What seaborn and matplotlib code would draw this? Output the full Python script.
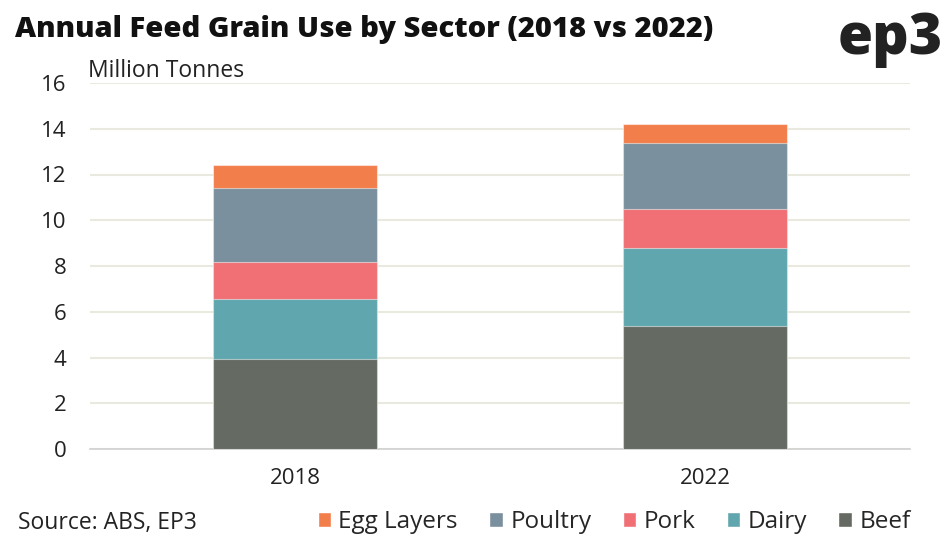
import pandas as pd
import matplotlib.pyplot as plt
import seaborn as sns
from matplotlib.patches import Patch

years = ["2018", "2022"]
sectors = ["Beef", "Dairy", "Pork", "Poultry", "Egg Layers"]
beef = [3.93, 5.38]
dairy = [2.63, 3.41]
pork = [1.61, 1.70]
poultry = [3.24, 2.89]
egg_layers = [1.01, 0.83]

colors = {
    "Beef": "#656A62",
    "Dairy": "#60A6AE",
    "Pork": "#F07075",
    "Poultry": "#7A909E",
    "Egg Layers": "#F27E4B",
}

sns.set_theme(style="white")
plt.rcParams["font.family"] = ["Open Sans", "DejaVu Sans"]

df = pd.DataFrame({"year": years, "Beef": beef, "Dairy": dairy, "Pork": pork,
                   "Poultry": poultry, "Egg Layers": egg_layers})
# cumulative totals, drawn from the top segment down so each bar covers the one before
cum = df[sectors].cumsum(axis=1)
cum["year"] = df["year"]

fig = plt.figure(figsize=(9.49, 5.41), dpi=100)
ax = fig.add_axes([90 / 949, 1 - 449 / 541, 820 / 949, 366 / 541])

for s in reversed(sectors):
    sns.barplot(data=cum, x="year", y=s, color=colors[s], width=0.4, ax=ax,
                saturation=1, edgecolor=(1, 1, 1, 0.5), linewidth=0.8, zorder=3)

ax.set_xlim(-0.5, 1.5)
ax.set_ylim(0, 16)
ax.set_yticks(range(0, 17, 2))
ax.yaxis.grid(True, color="#E9E9DF", linewidth=1.5, zorder=0)
ax.set_axisbelow(True)
for side in ["top", "right", "left"]:
    ax.spines[side].set_visible(False)
ax.spines["bottom"].set_color("#D0D0D0")
ax.spines["bottom"].set_linewidth(1.2)
ax.set_xlabel("")
ax.set_ylabel("")
ax.tick_params(axis="both", length=0, labelsize=16, colors="#222222")
ax.tick_params(axis="y", pad=17)
ax.tick_params(axis="x", pad=14)

fig.text(15 / 949, 1 - 30 / 541, "Annual Feed Grain Use by Sector (2018 vs 2022)",
         fontsize=21, fontweight="heavy", va="center", ha="left", color="#111111")
fig.text(943 / 949, 1 - 40 / 541, "ep3", fontsize=41, fontweight="heavy",
         va="center", ha="right", color="#222222")
fig.text(88 / 949, 1 - 71 / 541, "Million Tonnes", fontsize=16.5, va="center",
         ha="left", color="#222222")
fig.text(18 / 949, 1 - 523 / 541, "Source: ABS, EP3", fontsize=16.5, va="center",
         ha="left", color="#222222")

order = ["Egg Layers", "Poultry", "Pork", "Dairy", "Beef"]
handles = [Patch(facecolor=colors[s], label=s) for s in order]
fig.legend(handles=handles, loc="center right", bbox_to_anchor=(920 / 949, 1 - 522 / 541),
           ncol=5, frameon=False, fontsize=17.5, handlelength=0.55, handleheight=0.55,
           handletextpad=0.3, columnspacing=1.3, borderaxespad=0)

fig.savefig("out.png", dpi=100)
